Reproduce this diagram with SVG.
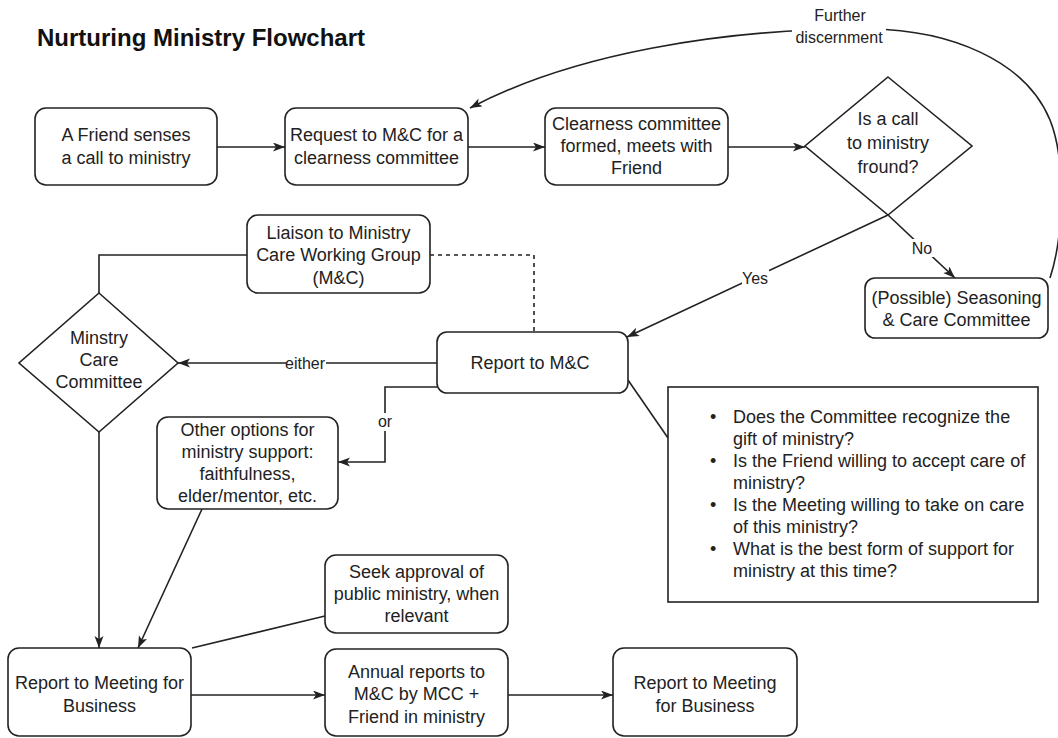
<svg xmlns="http://www.w3.org/2000/svg" width="1058" height="738" viewBox="0 0 1058 738">
<style>
.n{fill:#fff;stroke:#222;stroke-width:1.6}
.t{font-family:"Liberation Sans",Arial,sans-serif;font-size:18px;fill:#222;text-anchor:middle;dominant-baseline:central}
.b{font-family:"Liberation Sans",Arial,sans-serif;font-size:18px;fill:#222;dominant-baseline:central}
.l{font-family:"Liberation Sans",Arial,sans-serif;font-size:16px;fill:#222;text-anchor:middle;dominant-baseline:central}
.c{fill:none;stroke:#222;stroke-width:1.6}
.a{marker-end:url(#arr)}
.d{stroke-dasharray:4 4}
.bg{fill:#fff}
</style>
<defs>
<marker id="arr" markerUnits="userSpaceOnUse" markerWidth="14" markerHeight="10" refX="12" refY="4.5" orient="auto">
<path d="M0,0 L12,4.5 L0,9 L3,4.5 z" fill="#222"/>
</marker>
</defs>
<rect width="1058" height="738" fill="#fff"/>
<text x="37" y="46" font-family="'Liberation Sans',Arial,sans-serif" font-size="24" font-weight="bold" fill="#111">Nurturing Ministry Flowchart</text>

<g id="connectors">
<path class="c a" d="M217,147 H285"/>
<path class="c a" d="M468,147 H545"/>
<path class="c a" d="M728,147 H805"/>
<path class="c a" d="M888,215 L627,337"/>
<path class="c a" d="M888,215 L955,278"/>
<path class="c a" d="M1050,278 C1064,235 1066,160 1050,120 C1025,60 950,30 870,29 C720,28 570,55 470,108"/>
<path class="c d" d="M430,255 H534 V332"/>
<path class="c" d="M247,255 H99 V293"/>
<path class="c a" d="M437,363 H178"/>
<path class="c a" d="M437,387 H385 V462 H338"/>
<path class="c" d="M628,380 L668,438"/>
<path class="c a" d="M99,432 V648"/>
<path class="c a" d="M202,509 L138,648"/>
<path class="c" d="M325,616 L192,648"/>
<path class="c a" d="M191,695 H325"/>
<path class="c a" d="M508,695 H613"/>
<rect class="bg" x="792" y="5" width="94" height="42"/>
<text class="l" x="840" y="15">Further</text>
<text class="l" x="839" y="37">discernment</text>
<rect class="bg" x="742" y="269" width="27" height="18"/>
<text class="l" x="755" y="278">Yes</text>
<rect class="bg" x="911" y="239" width="23" height="18"/>
<text class="l" x="922" y="248">No</text>
<rect class="bg" x="286" y="354" width="40" height="18"/>
<text class="l" x="305" y="363">either</text>
<rect class="bg" x="376" y="413" width="18" height="18"/>
<text class="l" x="385" y="421">or</text>
</g>

<g id="friend"><rect class="n" x="35" y="108" width="182" height="77" rx="11"/>
<text class="t" x="126" y="135">A Friend senses</text><text class="t" x="126" y="158">a call to ministry</text></g>

<g id="request"><rect class="n" x="285" y="108" width="183" height="77" rx="11"/>
<text class="t" x="376.5" y="135">Request to M&amp;C for a</text><text class="t" x="376.5" y="158">clearness committee</text></g>

<g id="clearness"><rect class="n" x="545" y="108" width="183" height="77" rx="11"/>
<text class="t" x="636.5" y="124">Clearness committee</text><text class="t" x="636.5" y="146">formed, meets with</text><text class="t" x="636.5" y="168">Friend</text></g>

<g id="callfound"><polygon class="n" points="888,77 972,146 888,215 805,146"/>
<text class="t" x="888" y="119">Is a call</text><text class="t" x="888" y="143">to ministry</text><text class="t" x="888" y="167">fround?</text></g>

<g id="seasoning"><rect class="n" x="865" y="278" width="183" height="60" rx="10"/>
<text class="t" x="956.5" y="298">(Possible) Seasoning</text><text class="t" x="956.5" y="320">&amp; Care Committee</text></g>

<g id="liaison"><rect class="n" x="247" y="215" width="183" height="78" rx="11"/>
<text class="t" x="338.5" y="233">Liaison to Ministry</text><text class="t" x="338.5" y="255">Care Working Group</text><text class="t" x="338.5" y="278">(M&amp;C)</text></g>

<g id="reportmc"><rect class="n" x="437" y="332" width="191" height="61" rx="10"/>
<text class="t" x="530" y="363">Report to M&amp;C</text></g>

<g id="mcc"><polygon class="n" points="99,293 178,363 99,432 19,363"/>
<text class="t" x="99" y="338">Minstry</text><text class="t" x="99" y="360">Care</text><text class="t" x="99" y="382">Committee</text></g>

<g id="other"><rect class="n" x="157" y="417" width="181" height="92" rx="11"/>
<text class="t" x="247.5" y="430">Other options for</text><text class="t" x="247.5" y="452">ministry support:</text><text class="t" x="247.5" y="474">faithfulness,</text><text class="t" x="247.5" y="496">elder/mentor, etc.</text></g>

<g id="questions"><rect class="n" x="668" y="387" width="370" height="215"/>
<text class="b" x="710" y="417">•</text><text class="b" x="733" y="417">Does the Committee recognize the</text>
<text class="b" x="733" y="439">gift of ministry?</text>
<text class="b" x="710" y="461">•</text><text class="b" x="733" y="461">Is the Friend willing to accept care of</text>
<text class="b" x="733" y="483">ministry?</text>
<text class="b" x="710" y="505">•</text><text class="b" x="733" y="505">Is the Meeting willing to take on care</text>
<text class="b" x="733" y="527">of this ministry?</text>
<text class="b" x="710" y="549">•</text><text class="b" x="733" y="549">What is the best form of support for</text>
<text class="b" x="733" y="571">ministry at this time?</text></g>

<g id="seek"><rect class="n" x="325" y="555" width="183" height="78" rx="11"/>
<text class="t" x="416.5" y="572">Seek approval of</text><text class="t" x="416.5" y="594">public ministry, when</text><text class="t" x="416.5" y="616">relevant</text></g>

<g id="rmb1"><rect class="n" x="8" y="648" width="183" height="88" rx="11"/>
<text class="t" x="99.5" y="683">Report to Meeting for</text><text class="t" x="99.5" y="706">Business</text></g>

<g id="annual"><rect class="n" x="325" y="649" width="183" height="87" rx="11"/>
<text class="t" x="416.5" y="672">Annual reports to</text><text class="t" x="416.5" y="694">M&amp;C by MCC +</text><text class="t" x="416.5" y="717">Friend in ministry</text></g>

<g id="rmb2"><rect class="n" x="613" y="648" width="184" height="88" rx="11"/>
<text class="t" x="705" y="683">Report to Meeting</text><text class="t" x="705" y="706">for Business</text></g>
</svg>
